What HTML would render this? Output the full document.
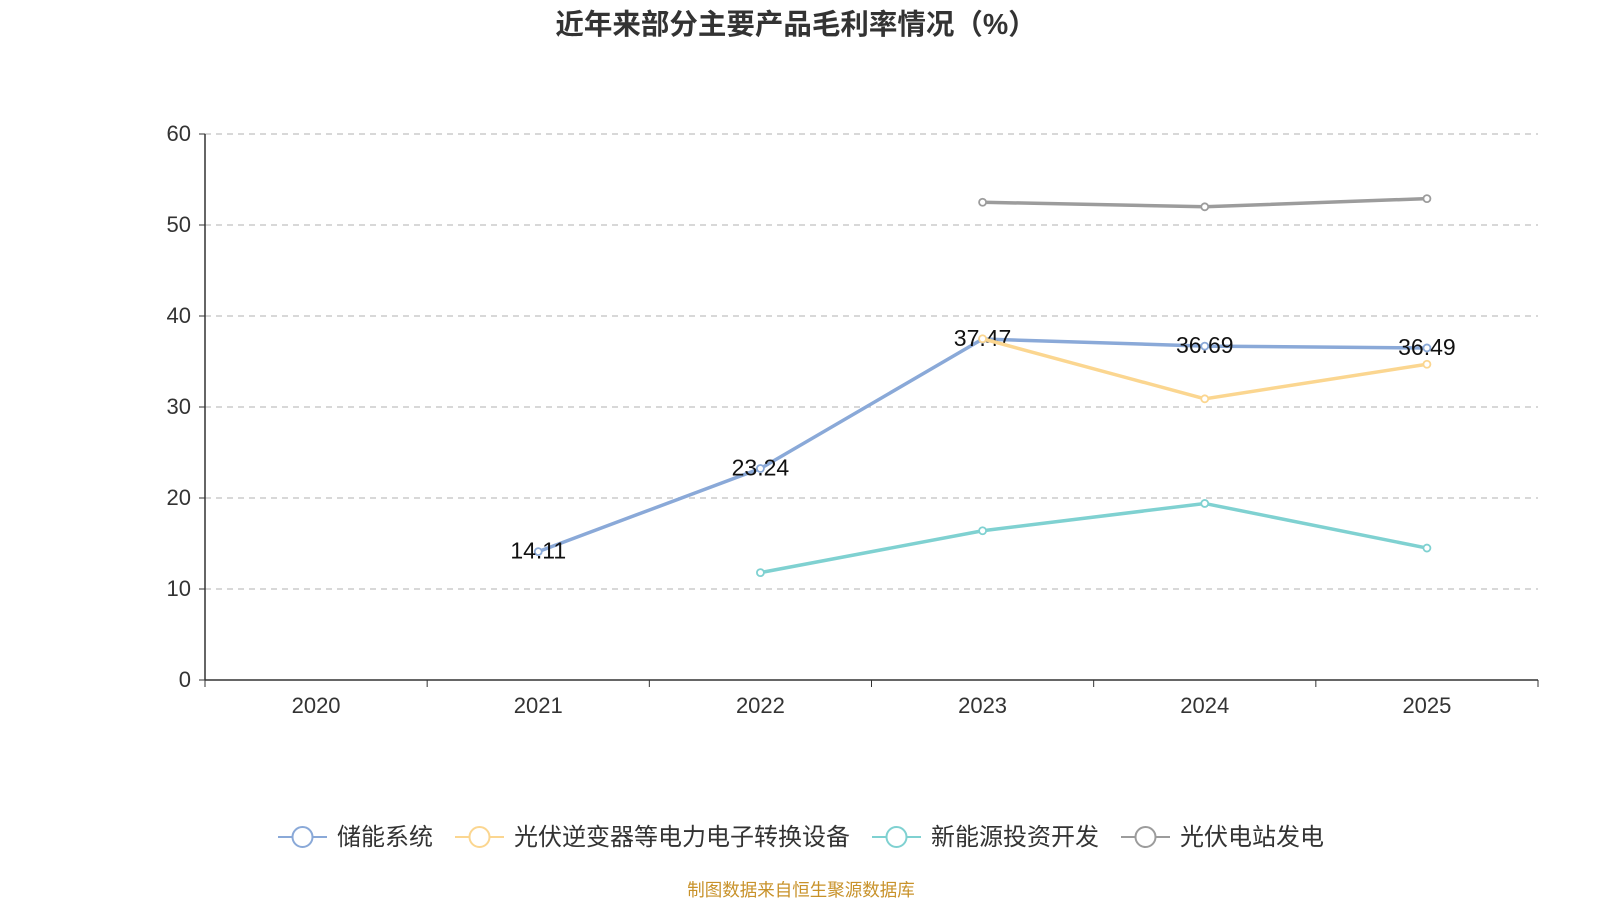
<!DOCTYPE html>
<html><head><meta charset="utf-8"><style>
html,body{margin:0;padding:0;background:#fff;width:1600px;height:900px;overflow:hidden}
svg{display:block}
text{font-family:"Liberation Sans","Noto Sans CJK SC",sans-serif}
</style></head><body>
<svg id="chart" width="1600" height="900">
<text x="796" y="34" text-anchor="middle" font-size="28.5" font-weight="bold" fill="#333">近年来部分主要产品毛利率情况（%）</text>
<g id="grid"></g><g id="axes"></g><g id="series"></g><g id="legend"></g>
<text x="801" y="896" text-anchor="middle" font-size="17.5" fill="#c8922a">制图数据来自恒生聚源数据库</text>
</svg>
<script>
const categories=["2020","2021","2022","2023","2024","2025"];
const yTicks=[0,10,20,30,40,50,60];
const seriesNames=["储能系统","光伏逆变器等电力电子转换设备","新能源投资开发","光伏电站发电"];
const storage=[null,14.11,23.24,37.47,36.69,36.49];
const inverter=[null,null,null,37.5,30.9,34.7];
const newEnergy=[null,null,11.8,16.4,19.4,14.5];
const pvStation=[null,null,null,52.5,52.0,52.9];
const colors=["#8aa9d8","#fbd690","#7fd1d1","#9c9c9c"];
const labeled=[true,false,false,false];
const NS="http://www.w3.org/2000/svg";
const x0=205,x1=1538,yB=680,yT=134;
const step=(x1-x0)/categories.length;
const xs=i=>x0+step*(i+0.5);
const ys=v=>yB-(v/60)*(yB-yT);
function mk(t,a,p){const e=document.createElementNS(NS,t);for(const k in a)e.setAttribute(k,a[k]);p.appendChild(e);return e;}
const grid=document.getElementById('grid'),axes=document.getElementById('axes'),ser=document.getElementById('series'),leg=document.getElementById('legend');
yTicks.forEach(v=>{
 if(v>0){const l=mk('line',{x1:x0,x2:x1,y1:ys(v),y2:ys(v),stroke:'#ccc','stroke-dasharray':'6,5','stroke-width':1.5},grid);
 }
 mk('line',{x1:x0-6,x2:x0,y1:ys(v),y2:ys(v),stroke:'#333'},axes);
 const t=mk('text',{x:x0-14,y:ys(v)+7,'text-anchor':'end','font-size':22,fill:'#333'},axes);t.textContent=v;
 
});
mk('line',{x1:x0,x2:x0,y1:yT,y2:yB,stroke:'#333','stroke-width':1.5},axes);
mk('line',{x1:x0,x2:x1,y1:yB,y2:yB,stroke:'#333','stroke-width':1.5},axes);
for(let i=0;i<=categories.length;i++)mk('line',{x1:x0+step*i,x2:x0+step*i,y1:yB,y2:yB+7,stroke:'#333'},axes);
categories.forEach((c,i)=>{const t=mk('text',{x:xs(i),y:yB+33,'text-anchor':'middle','font-size':22,fill:'#333'},axes);t.textContent=c;
 });
[storage,inverter,newEnergy,pvStation].forEach((d,si)=>{
 const g=mk('g',{},ser);
 let pts=[];d.forEach((v,i)=>{if(v!==null)pts.push([xs(i),ys(v),v]);});
 mk('polyline',{points:pts.map(p=>p[0]+','+p[1]).join(' '),fill:'none',stroke:colors[si],'stroke-width':3.5},g);
 pts.forEach(p=>{const c=mk('circle',{cx:p[0],cy:p[1],r:3.5,fill:'#fff',stroke:colors[si],'stroke-width':1.8},g);
  
  if(labeled[si]){const t=mk('text',{x:p[0],y:p[1]+7,'text-anchor':'middle','font-size':23,fill:'#111'},g);t.textContent=p[2].toFixed(2);
   }
 });
});
const lx=[278,455,872,1121];
seriesNames.forEach((n,i)=>{const g=mk('g',{},leg);
 mk('line',{x1:lx[i],x2:lx[i]+49,y1:837,y2:837,stroke:colors[i],'stroke-width':2},g);
 mk('circle',{cx:lx[i]+24.5,cy:837,r:10,fill:'#fff',stroke:colors[i],'stroke-width':2},g);
 const t=mk('text',{x:lx[i]+59,y:845,'font-size':24,fill:'#333'},g);t.textContent=n;});
</script>
</body></html>
